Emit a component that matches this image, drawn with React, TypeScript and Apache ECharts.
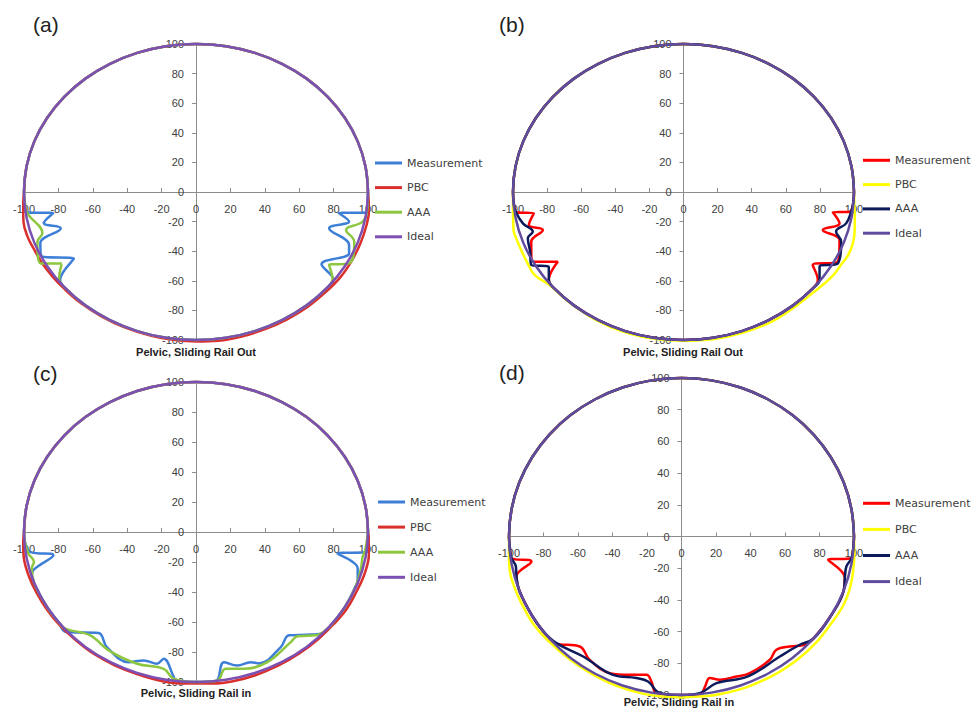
import React, { useEffect, useRef } from "react";
import * as echarts from "echarts";

const seriesNames = ["Measurement", "PBC", "AAA", "Ideal"];
const panelLetters = ["(a)", "(b)", "(c)", "(d)"];
const axisTitles = ["Pelvic, Sliding Rail Out", "Pelvic, Sliding Rail Out", "Pelvic, Sliding Rail in", "Pelvic, Sliding Rail in"];

// upper half, shared by every curve: from (100,0) over the top to (-100,0)
const topArc = [
  [100, 0], [98.5, 17.4], [94, 34.2], [86.6, 50], [76.6, 64.3], [64.3, 76.6], [50, 86.6], [34.2, 94], [17.4, 98.5],
  [0, 100], [-17.4, 98.5], [-34.2, 94], [-50, 86.6], [-64.3, 76.6], [-76.6, 64.3], [-86.6, 50], [-94, 34.2], [-98.5, 17.4], [-100, 0],
];

// lower halves: from the left side, round the bottom, back to (100,0)
const idealBottom = [
  [-98.5, -17.4], [-94, -34.2], [-86.6, -50], [-76.6, -64.3], [-64.3, -76.6], [-50, -86.6], [-34.2, -94], [-17.4, -98.5],
  [0, -100], [17.4, -98.5], [34.2, -94], [50, -86.6], [64.3, -76.6], [76.6, -64.3], [86.6, -50], [94, -34.2], [98.5, -17.4], [100, 0],
];

const measA = [
  [-99.6, -7], [-97.5, -13.8], [-83, -14.2], [-88.5, -21], [-78.6, -24.5], [-90.5, -34.5], [-89.7, -43.5], [-71, -45], [-79, -59.5],
  [-76.6, -64.3], [-64.3, -76.6], [-50, -86.6], [-34.2, -94], [-17.4, -98.5], [0, -100], [17.4, -98.5], [34.2, -94], [50, -86.6],
  [64.3, -76.6], [76.6, -64.3], [80, -59.5], [73, -48.9], [89, -41.4], [89, -35.8], [77.4, -24.5], [89, -20], [83, -14.2],
  [98.8, -13.8], [99.6, -7], [100, 0],
];
const pbcA = [
  [-100.5, -10], [-100.3, -20], [-98, -30], [-94.5, -38], [-89.5, -48], [-83.5, -57], [-76.5, -65.5], [-67, -75], [-55, -84],
  [-41.5, -91.5], [-26.5, -97], [-12, -100], [0, -101], [13, -100.5], [27, -97.5], [40.5, -92.5], [53, -86], [65, -77.5],
  [75.5, -67.5], [84, -57.5], [90.5, -46.5], [95.5, -35], [99, -23], [100.6, -12], [100, 0],
];
const aaaA = [
  [-99.5, -7], [-98.1, -14.3], [-89.3, -27.9], [-92.2, -33.6], [-90.3, -48.3], [-78, -48.3], [-79.6, -58.5], [-76.6, -64.3],
  [-64.3, -76.6], [-50, -86.6], [-34.2, -94], [-17.4, -98.5], [0, -100], [17.4, -98.5], [34.2, -94], [50, -86.6], [64.3, -76.6],
  [76.6, -64.3], [79.4, -59], [77.4, -49.3], [89.1, -48.2], [92, -33.6], [87.2, -25.7], [96.9, -20], [99.5, -12.6], [100, 0],
];

const measB = [
  [-99.6, -7], [-98.1, -13.7], [-87.8, -14.4], [-90.7, -22.3], [-82.5, -25.7], [-89.3, -33.6], [-88.4, -47.1], [-73.7, -47.1],
  [-79, -59.5], [-76.6, -64.3], [-64.3, -76.6], [-50, -86.6], [-34.2, -94], [-17.4, -98.5], [0, -100], [17.4, -98.5], [34.2, -94],
  [50, -86.6], [64.3, -76.6], [76.6, -64.3], [78.8, -59.5], [75.8, -49.3], [90.5, -47.1], [91.5, -32.4], [81.7, -25.7],
  [91.5, -21.2], [87.6, -13.7], [97.4, -13.3], [99.6, -7], [100, 0],
];
const pbcB = [
  [-100, -10], [-99.7, -25.7], [-97.5, -33], [-95.2, -39.2], [-91.5, -48], [-87.4, -56], [-78.6, -62.8], [-67, -74.5],
  [-52, -86], [-35, -94.5], [-18, -99], [0, -100.5], [18, -99.3], [35, -95], [52, -87.5], [66, -77], [76, -68], [83, -61.5],
  [88, -56], [92.5, -49], [96.4, -43], [99, -36], [100.3, -28], [100.5, -19], [100.2, -9], [100, 0],
];
const aaaB = [
  [-99.6, -7], [-98.5, -13], [-94.2, -21.2], [-88.4, -26.8], [-91.3, -31.3], [-90, -40], [-89.3, -49.3], [-79, -50.5],
  [-79, -59.5], [-76.6, -64.3], [-64.3, -76.6], [-50, -86.6], [-34.2, -94], [-17.4, -98.5], [0, -100], [17.4, -98.5], [34.2, -94],
  [50, -86.6], [64.3, -76.6], [76.6, -64.3], [79.8, -59.5], [79.8, -50.5], [90.5, -48.2], [92.5, -33.6], [89.5, -26.8],
  [95.4, -21.2], [98.4, -13], [99.6, -7], [100, 0],
];

const measC = [
  [-99.4, -7], [-96.5, -13.2], [-82.9, -15.4], [-94.6, -25.4], [-95.5, -29.5], [-92, -39], [-86.6, -50], [-80, -60],
  [-75.5, -66.7], [-56.7, -67.3], [-51.8, -76.7], [-39.2, -86.8], [-30.4, -85.6], [-22.6, -87.8], [-18.8, -84.5],
  [-12.9, -96.8], [-12, -99.3], [0, -100], [11.4, -99.5], [16.2, -86.8], [24, -89], [31.8, -86.8], [36.6, -87.6],
  [49.3, -76.7], [54.1, -68.9], [66.8, -68.4], [74, -67.3], [80, -60], [86.6, -50], [92, -38], [94, -32], [94, -24.3],
  [82.3, -14.3], [99.8, -13.2], [100, 0],
];
const pbcC = [
  [-100.5, -8], [-100, -18], [-97, -30], [-92.5, -41], [-86.5, -52], [-79, -62.5], [-70, -72], [-59, -81.5], [-47, -89],
  [-33.5, -95], [-19.5, -99.5], [-8, -101], [0, -101], [10, -101], [21.5, -99.5], [34.5, -95.5], [48, -89], [60, -81],
  [71, -71.5], [80, -61.5], [87.5, -51.5], [93, -40.5], [97.5, -29.5], [100.3, -18], [100.8, -8], [100, 0],
];
const aaaC = [
  [-99.4, -7], [-97.5, -14.3], [-94.2, -19.9], [-95.5, -24.3], [-94, -34.2], [-86.6, -50], [-80, -60], [-76.1, -64.4],
  [-61.5, -68.9], [-50.8, -78.9], [-34.3, -87.8], [-18.8, -91.2], [-12.9, -98], [0, -100], [12.4, -99], [17.2, -91.2],
  [27.9, -91.2], [41.5, -86.8], [55.1, -73.4], [59, -69.5], [69.7, -68.9], [76.5, -64.4], [80, -60], [86.6, -50], [93, -36],
  [95.9, -24.3], [96.9, -16.5], [98.4, -12], [100, 0],
];

const measD = [
  [-99.5, -7], [-98.6, -13.6], [-87, -15.8], [-95.7, -25.2], [-94, -34.2], [-86.6, -50], [-80, -60], [-73.4, -67.3],
  [-59, -69.4], [-53.2, -77.8], [-41.6, -86.2], [-30, -87.3], [-20.3, -87.3], [-17.4, -91.5], [-14.5, -98.8], [0, -100],
  [11, -99.5], [13.5, -95], [16.4, -89.3], [22.2, -90.4], [31.9, -88.3], [39.6, -86.2], [51.2, -77.8], [55, -71.5],
  [62.8, -69.4], [71.5, -68.3], [76.6, -64.3], [86.6, -50], [94, -34.2], [94.7, -26.2], [85, -14.7], [98.6, -13.6],
  [99.6, -7], [100, 0],
];
const pbcD = [
  [-100, -10], [-99.5, -22], [-96.5, -33], [-92.8, -42], [-86, -55], [-77, -66], [-66, -76.5], [-53, -86], [-38, -94],
  [-22, -99.3], [-10, -101], [0, -101.5], [10, -101], [22, -99.5], [38, -95], [55, -86.5], [68, -77], [78, -67], [86, -56],
  [93.5, -44], [97.5, -33], [99.5, -22], [100.2, -10], [100, 0],
];
const aaaD = [
  [-99.5, -7], [-98.6, -13.6], [-96, -18.9], [-95.7, -25.2], [-94, -34.2], [-86.6, -50], [-80, -60], [-72.5, -67.3],
  [-57, -75.7], [-39.7, -87.3], [-26.1, -89.3], [-19.4, -91.5], [-12.6, -98.8], [0, -100], [10.6, -98.8], [20.3, -92.5],
  [38.5, -88.3], [57, -75.7], [68.6, -68.3], [76.6, -64.3], [86.6, -50], [94, -34.2], [94.7, -26.2], [95.6, -18.9],
  [98.6, -13.6], [99.6, -7], [100, 0],
];

const colorsAC = ["#3d7fd6", "#d9302c", "#8dc63f", "#7c4fb3"];
const colorsBD = ["#ff0000", "#ffff00", "#0c1a5b", "#604c9e"];

const panelBottoms = [
  [measA, pbcA, aaaA, idealBottom],
  [measB, pbcB, aaaB, idealBottom],
  [measC, pbcC, aaaC, idealBottom],
  [measD, pbcD, aaaD, idealBottom],
];
const panelColors = [colorsAC, colorsBD, colorsAC, colorsBD];

const layout = [
  { grid: { left: 24, top: 44, width: 344, height: 296 }, legend: { left: 375, top: 156, itemGap: 10.6 }, letter: [33, 24], title: [196, 352] },
  { grid: { left: 513, top: 44, width: 341, height: 296 }, legend: { left: 863, top: 153.3, itemGap: 10.3 }, letter: [499, 24], title: [683, 352] },
  { grid: { left: 24, top: 382, width: 344, height: 300 }, legend: { left: 378, top: 495, itemGap: 11.1 }, letter: [33, 373], title: [196, 693] },
  { grid: { left: 509, top: 378, width: 345, height: 317 }, legend: { left: 863, top: 496.3, itemGap: 12.1 }, letter: [499, 372], title: [679, 702] },
];

export default function App() {
  const ref = useRef<HTMLDivElement>(null);
  useEffect(() => {
    if (!ref.current) return;
    const chart = echarts.init(ref.current, undefined, { renderer: "svg" });
    const axisColor = "#8c8c8c";
    const labelStyle = { fontFamily: "Liberation Sans", fontSize: 11, color: "#404040", showMinLabel: true, showMaxLabel: true };
    const grids = layout.map((l) => ({ ...l.grid, containLabel: false }));
    const xAxes = layout.map((l, i) => ({
      type: "value", gridIndex: i, min: -100, max: 100, interval: 20,
      position: "bottom",
      offset: -l.grid.height / 2,
      axisLine: { onZero: false, lineStyle: { color: axisColor, width: 1 } },
      axisTick: { show: true, inside: true, length: 4, lineStyle: { color: axisColor } },
      axisLabel: { ...labelStyle, margin: 11 },
      splitLine: { show: false },
    }));
    const yAxes = layout.map((l, i) => ({
      type: "value", gridIndex: i, min: -100, max: 100, interval: 20,
      position: "left",
      offset: -l.grid.width / 2,
      axisLine: { onZero: false, lineStyle: { color: axisColor, width: 1 } },
      axisTick: { show: true, inside: false, length: 4, lineStyle: { color: axisColor } },
      axisLabel: { ...labelStyle, margin: 12 },
      splitLine: { show: false },
    }));
    const series: any[] = [];
    panelBottoms.forEach((bottoms, p) => {
      bottoms.forEach((bottom, s) => {
        series.push({
          type: "line",
          name: seriesNames[s],
          xAxisIndex: p,
          yAxisIndex: p,
          data: [...topArc, ...bottom],
          symbol: "none",
          showSymbol: false,
          smooth: 0.4,
          clip: false,
          lineStyle: { width: 2.5, color: panelColors[p][s] },
          itemStyle: { color: panelColors[p][s] },
          z: 2 + s,
        });
      });
    });
    const legends = layout.map((l, p) => ({
      orient: "vertical",
      left: l.legend.left,
      top: l.legend.top,
      itemGap: l.legend.itemGap,
      itemWidth: 27,
      itemHeight: 3,
      icon: "rect",
      selectedMode: false,
      padding: 0,
      textStyle: { fontFamily: "DejaVu Sans", fontSize: 11, color: "#404040", lineHeight: 14 },
      data: seriesNames.map((n, s) => ({ name: n, itemStyle: { color: panelColors[p][s], borderWidth: 0 } })),
    }));
    const graphic: any[] = [];
    layout.forEach((l, p) => {
      graphic.push({
        type: "text", x: l.letter[0], y: l.letter[1],
        style: { text: panelLetters[p], font: '21px "Liberation Sans"', fill: "#222", textAlign: "left", textVerticalAlign: "middle", align: "left", verticalAlign: "middle" },
      });
      graphic.push({
        type: "text", x: l.title[0], y: l.title[1],
        style: { text: axisTitles[p], font: 'bold 11px "Liberation Sans"', fill: "#222", textAlign: "center", textVerticalAlign: "middle", align: "center", verticalAlign: "middle" },
      });
    });
    chart.setOption({
      animation: false,
      backgroundColor: "#ffffff",
      grid: grids,
      xAxis: xAxes,
      yAxis: yAxes,
      legend: legends,
      series,
      graphic,
    });
    return () => chart.dispose();
  }, []);
  return <div ref={ref} style={{ position: "fixed", left: 0, top: 0, width: 972, height: 710 }} />;
}
